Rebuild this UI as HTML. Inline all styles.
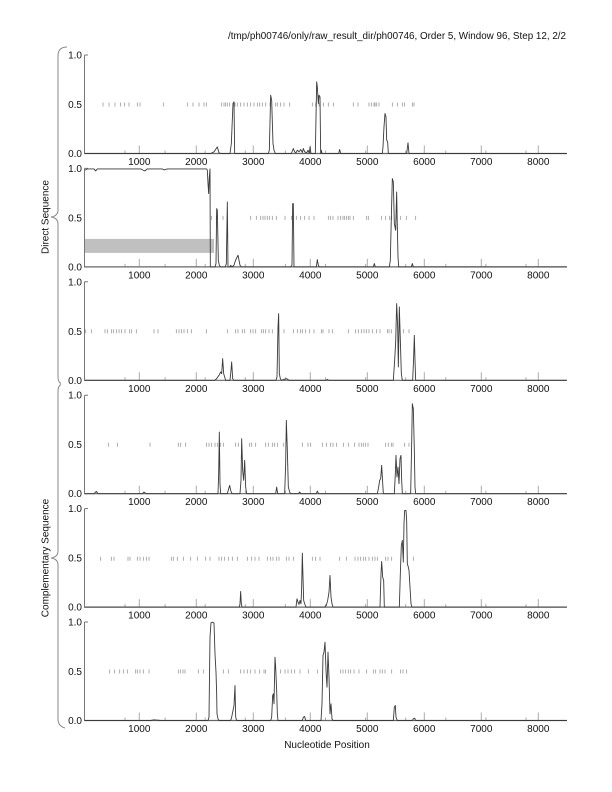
<!DOCTYPE html>
<html><head><meta charset="utf-8"><style>
html,body{margin:0;padding:0;background:#fff}
svg{display:block}
text{font-family:"Liberation Sans",Arial,sans-serif;font-size:10px;fill:#111}
.xl{text-anchor:middle}
.yl{text-anchor:end}
.ax{stroke:#777;stroke-width:1;fill:none}
.bl{stroke:#666;stroke-width:1.2;fill:none}
.tk{stroke:#aaa;stroke-width:1;fill:none}
.mk{stroke:#999;stroke-width:0.8;fill:none;vector-effect:non-scaling-stroke}
.cv{stroke:#3a3a3a;stroke-width:0.9;fill:none;vector-effect:non-scaling-stroke;stroke-linejoin:round}
.br{stroke:#888;stroke-width:1;fill:none}
</style></head><body>
<svg width="612" height="792" viewBox="0 0 612 792" xmlns="http://www.w3.org/2000/svg">
<rect width="612" height="792" fill="#fff"/>
<text x="228" y="39" textLength="338" lengthAdjust="spacingAndGlyphs">/tmp/ph00746/only/raw_result_dir/ph00746, Order 5, Window 96, Step 12, 2/2</text>

<!-- braces -->
<path class="br" d="M67,47 Q58,47 58,56 L58,210 Q58,216 51,217 Q58,218 58,224 L58,377 Q58,382 61,383.5"/>
<path class="br" d="M61,384.5 Q58,386 58,391 L58,551 Q58,557 51,558 Q58,559 58,565 L58,719 Q58,726 65,728"/>
<text transform="translate(48.5,217) rotate(-90)" text-anchor="middle">Direct Sequence</text>
<text transform="translate(48.5,558) rotate(-90)" text-anchor="middle">Complementary Sequence</text>
<text x="327" y="748" text-anchor="middle">Nucleotide Position</text>

<!-- PANEL 1 -->
<g transform="translate(0,153.5)">
<path class="ax" d="M84.5,-98.5V0M84.5,-98.5H88"/>
<path class="tk" d="M139.3,0v-8M196.3,0v-8M253.3,0v-8M310.3,0v-8M367.3,0v-8M424.3,0v-8M481.3,0v-8M538.3,0v-8M125,0v-3M165.1,0v-3M205.2,0v-3M245.3,0v-3M285.4,0v-3M325.5,0v-3M365.6,0v-3M405.7,0v-3M445.8,0v-3M485.9,0v-3M526,0v-3"/>
<path class="bl" d="M84,0H567"/>
<text class="yl" x="82" y="-95">1.0</text><text class="yl" x="82" y="-45.5">0.5</text><text class="yl" x="82" y="3.5">0.0</text>
<text class="xl" x="139.3" y="11.5">1000</text><text class="xl" x="196.3" y="11.5">2000</text><text class="xl" x="253.3" y="11.5">3000</text><text class="xl" x="310.3" y="11.5">4000</text><text class="xl" x="367.3" y="11.5">5000</text><text class="xl" x="424.3" y="11.5">6000</text><text class="xl" x="481.3" y="11.5">7000</text><text class="xl" x="538.3" y="11.5">8000</text>
<g transform="translate(84,0) scale(0.33333)">
<path class="mk" d="M57,-153v12M75,-153v12M93,-153v12M110,-153v12M122,-153v12M135,-153v12M160,-153v12M168,-153v12M238,-153v12M310,-153v12M327,-153v12M345,-153v12M360,-153v12M367,-153v12M413,-153v12M420,-153v12M425,-153v12M430,-153v12M437,-153v12M453,-153v12M460,-153v12M470,-153v12M480,-153v12M490,-153v12M500,-153v12M510,-153v12M520,-153v12M527,-153v12M535,-153v12M545,-153v12M558,-153v12M575,-153v12M580,-153v12M590,-153v12M600,-153v12M617,-153v12M685,-153v12M695,-153v12M705,-153v12M718,-153v12M733,-153v12M748,-153v12M808,-153v12M822,-153v12M855,-153v12M862,-153v12M870,-153v12M873,-153v12M878,-153v12M885,-153v12M925,-153v12M940,-153v12M955,-153v12M962,-153v12M985,-153v12M990,-153v12"/>
<polyline class="cv" points="3,0 380,0 390,-5 400,-20 405,-2 410,0 438,0 442,-30 447,-150 450,-155 452,0 455,0 553,0 556,-10 560,-175 563,-160 567,-30 570,-10 574,0 622,0 628,-15 632,-5 636,-2 640,-10 645,-5 650,-12 655,-3 658,-15 662,-5 668,-2 672,-10 676,0 678,-20 681,0 694,0 698,-215 700,-200 703,-150 705,-175 708,-170 710,0 712,-10 714,0 764,0 767,-12 770,0 895,0 897,-20 900,-80 903,-120 906,-110 908,-40 911,-35 913,0 968,0 972,-32 975,0 1448,0"/>
</g>
</g>

<!-- PANEL 2 -->
<g transform="translate(0,266.9)">
<rect x="85" y="-28" width="129" height="14" fill="#c0c0c0"/>
<path class="ax" d="M84.5,-98.5V0M84.5,-98.5H88"/>
<path class="tk" d="M139.3,0v-8M196.3,0v-8M253.3,0v-8M310.3,0v-8M367.3,0v-8M424.3,0v-8M481.3,0v-8M538.3,0v-8M125,0v-3M165.1,0v-3M205.2,0v-3M245.3,0v-3M285.4,0v-3M325.5,0v-3M365.6,0v-3M405.7,0v-3M445.8,0v-3M485.9,0v-3M526,0v-3"/>
<path class="bl" d="M84,0H567"/>
<text class="yl" x="82" y="-95">1.0</text><text class="yl" x="82" y="-45.5">0.5</text><text class="yl" x="82" y="3.5">0.0</text>
<text class="xl" x="139.3" y="11.5">1000</text><text class="xl" x="196.3" y="11.5">2000</text><text class="xl" x="253.3" y="11.5">3000</text><text class="xl" x="310.3" y="11.5">4000</text><text class="xl" x="367.3" y="11.5">5000</text><text class="xl" x="424.3" y="11.5">6000</text><text class="xl" x="481.3" y="11.5">7000</text><text class="xl" x="538.3" y="11.5">8000</text>
<g transform="translate(84,0) scale(0.33333)">
<path class="mk" d="M382,-153v12M397,-153v12M417,-153v12M500,-153v12M517,-153v12M530,-153v12M537,-153v12M543,-153v12M550,-153v12M557,-153v12M565,-153v12M577,-153v12M603,-153v12M623,-153v12M637,-153v12M650,-153v12M662,-153v12M675,-153v12M690,-153v12M733,-153v12M740,-153v12M747,-153v12M762,-153v12M770,-153v12M777,-153v12M782,-153v12M788,-153v12M793,-153v12M798,-153v12M808,-153v12M848,-153v12M853,-153v12M893,-153v12M905,-153v12M917,-153v12M923,-153v12M937,-153v12M950,-153v12M967,-153v12M995,-153v12"/>
<polyline class="cv" points="3,-290 10,-294 30,-294 35,-288 40,-294 170,-294 178,-290 183,-288 190,-294 235,-294 240,-291 250,-294 368,-294 370,-290 372,-250 374,-220 376,-270 378,-294 379,0 393,0 396,-10 398,-175 400,-170 403,-20 406,-5 410,0 424,0 427,-10 430,-195 432,0 438,0 440,-5 444,0 450,-5 453,-15 457,-25 462,-35 465,-20 468,-5 472,0 620,0 624,-5 626,-190 628,-190 630,0 697,0 700,-22 703,-5 706,0 868,0 871,-10 874,0 916,0 919,-20 922,-150 925,-265 928,-255 931,-130 935,-110 938,-225 940,-120 942,-30 944,0 982,0 985,-10 988,0 1448,0"/>
</g>
</g>

<!-- PANEL 3 -->
<g transform="translate(0,380.3)">
<path class="ax" d="M84.5,-98.5V0M84.5,-98.5H88"/>
<path class="tk" d="M139.3,0v-8M196.3,0v-8M253.3,0v-8M310.3,0v-8M367.3,0v-8M424.3,0v-8M481.3,0v-8M538.3,0v-8M125,0v-3M165.1,0v-3M205.2,0v-3M245.3,0v-3M285.4,0v-3M325.5,0v-3M365.6,0v-3M405.7,0v-3M445.8,0v-3M485.9,0v-3M526,0v-3"/>
<path class="bl" d="M84,0H567"/>
<text class="yl" x="82" y="-95">1.0</text><text class="yl" x="82" y="-45.5">0.5</text><text class="yl" x="82" y="3.5">0.0</text>
<text class="xl" x="139.3" y="11.5">1000</text><text class="xl" x="196.3" y="11.5">2000</text><text class="xl" x="253.3" y="11.5">3000</text><text class="xl" x="310.3" y="11.5">4000</text><text class="xl" x="367.3" y="11.5">5000</text><text class="xl" x="424.3" y="11.5">6000</text><text class="xl" x="481.3" y="11.5">7000</text><text class="xl" x="538.3" y="11.5">8000</text>
<g transform="translate(84,0) scale(0.33333)">
<path class="mk" d="M5,-153v12M22,-153v12M63,-153v12M70,-153v12M82,-153v12M88,-153v12M97,-153v12M105,-153v12M113,-153v12M123,-153v12M137,-153v12M143,-153v12M157,-153v12M210,-153v12M222,-153v12M277,-153v12M285,-153v12M292,-153v12M300,-153v12M310,-153v12M322,-153v12M367,-153v12M430,-153v12M455,-153v12M462,-153v12M475,-153v12M482,-153v12M500,-153v12M507,-153v12M515,-153v12M533,-153v12M538,-153v12M545,-153v12M555,-153v12M565,-153v12M600,-153v12M628,-153v12M640,-153v12M650,-153v12M655,-153v12M665,-153v12M677,-153v12M690,-153v12M712,-153v12M717,-153v12M735,-153v12M745,-153v12M793,-153v12M815,-153v12M823,-153v12M832,-153v12M840,-153v12M847,-153v12M855,-153v12M865,-153v12M878,-153v12M888,-153v12M910,-153v12M915,-153v12M922,-153v12M945,-153v12M958,-153v12M975,-153v12"/>
<polyline class="cv" points="3,0 392,0 398,-5 405,-15 410,-25 413,-20 416,-65 419,-20 422,-10 425,0 438,0 441,-30 443,-55 446,-5 449,0 576,0 579,-10 582,-160 584,-200 586,-20 589,-5 592,0 600,-3 608,-5 615,0 726,0 730,-3 734,0 928,0 932,-60 935,-115 938,-230 941,-160 943,-40 946,-220 949,-120 952,-20 955,0 986,0 989,-70 991,-135 993,-60 995,0 1448,0"/>
</g>
</g>

<!-- PANEL 4 -->
<g transform="translate(0,493.7)">
<path class="ax" d="M84.5,-98.5V0M84.5,-98.5H88"/>
<path class="tk" d="M139.3,0v-8M196.3,0v-8M253.3,0v-8M310.3,0v-8M367.3,0v-8M424.3,0v-8M481.3,0v-8M538.3,0v-8M125,0v-3M165.1,0v-3M205.2,0v-3M245.3,0v-3M285.4,0v-3M325.5,0v-3M365.6,0v-3M405.7,0v-3M445.8,0v-3M485.9,0v-3M526,0v-3"/>
<path class="bl" d="M84,0H567"/>
<text class="yl" x="82" y="-95">1.0</text><text class="yl" x="82" y="-45.5">0.5</text><text class="yl" x="82" y="3.5">0.0</text>
<text class="xl" x="139.3" y="11.5">1000</text><text class="xl" x="196.3" y="11.5">2000</text><text class="xl" x="253.3" y="11.5">3000</text><text class="xl" x="310.3" y="11.5">4000</text><text class="xl" x="367.3" y="11.5">5000</text><text class="xl" x="424.3" y="11.5">6000</text><text class="xl" x="481.3" y="11.5">7000</text><text class="xl" x="538.3" y="11.5">8000</text>
<g transform="translate(84,0) scale(0.33333)">
<path class="mk" d="M73,-153v12M100,-153v12M198,-153v12M283,-153v12M290,-153v12M305,-153v12M368,-153v12M375,-153v12M383,-153v12M393,-153v12M400,-153v12M410,-153v12M418,-153v12M455,-153v12M463,-153v12M497,-153v12M503,-153v12M515,-153v12M545,-153v12M553,-153v12M565,-153v12M572,-153v12M580,-153v12M598,-153v12M655,-153v12M672,-153v12M680,-153v12M715,-153v12M727,-153v12M740,-153v12M747,-153v12M758,-153v12M778,-153v12M793,-153v12M812,-153v12M825,-153v12M832,-153v12M838,-153v12M845,-153v12M852,-153v12M905,-153v12M913,-153v12M922,-153v12M927,-153v12M962,-153v12M975,-153v12"/>
<polyline class="cv" points="3,0 30,0 37,-7 42,0 175,0 180,-5 186,0 402,0 404,-60 406,-185 408,-30 410,0 430,0 434,-15 437,-25 440,-10 444,0 468,0 471,-40 473,-165 476,-70 479,-40 482,-100 485,-20 488,0 575,0 578,-20 581,0 602,0 605,-90 607,-220 610,-130 613,-20 617,-5 620,0 643,0 647,-5 651,0 697,0 700,-8 704,0 880,0 884,-20 887,-40 890,-45 893,-85 895,-50 898,0 931,0 934,-60 936,-115 939,-50 942,-80 945,-30 948,-105 951,-115 953,-40 955,0 980,0 983,-150 985,-270 988,-255 991,-130 993,-20 995,0 1448,0"/>
</g>
</g>

<!-- PANEL 5 -->
<g transform="translate(0,607.1)">
<path class="ax" d="M84.5,-98.5V0M84.5,-98.5H88"/>
<path class="tk" d="M139.3,0v-8M196.3,0v-8M253.3,0v-8M310.3,0v-8M367.3,0v-8M424.3,0v-8M481.3,0v-8M538.3,0v-8M125,0v-3M165.1,0v-3M205.2,0v-3M245.3,0v-3M285.4,0v-3M325.5,0v-3M365.6,0v-3M405.7,0v-3M445.8,0v-3M485.9,0v-3M526,0v-3"/>
<path class="bl" d="M84,0H567"/>
<text class="yl" x="82" y="-95">1.0</text><text class="yl" x="82" y="-45.5">0.5</text><text class="yl" x="82" y="3.5">0.0</text>
<text class="xl" x="139.3" y="11.5">1000</text><text class="xl" x="196.3" y="11.5">2000</text><text class="xl" x="253.3" y="11.5">3000</text><text class="xl" x="310.3" y="11.5">4000</text><text class="xl" x="367.3" y="11.5">5000</text><text class="xl" x="424.3" y="11.5">6000</text><text class="xl" x="481.3" y="11.5">7000</text><text class="xl" x="538.3" y="11.5">8000</text>
<g transform="translate(84,0) scale(0.33333)">
<path class="mk" d="M50,-151v12M82,-151v12M90,-151v12M132,-151v12M138,-151v12M160,-151v12M168,-151v12M178,-151v12M187,-151v12M195,-151v12M262,-151v12M268,-151v12M280,-151v12M298,-151v12M320,-151v12M340,-151v12M365,-151v12M378,-151v12M405,-151v12M413,-151v12M422,-151v12M433,-151v12M445,-151v12M460,-151v12M490,-151v12M503,-151v12M513,-151v12M525,-151v12M550,-151v12M560,-151v12M567,-151v12M578,-151v12M585,-151v12M607,-151v12M615,-151v12M628,-151v12M685,-151v12M695,-151v12M708,-151v12M767,-151v12M787,-151v12M813,-151v12M822,-151v12M830,-151v12M838,-151v12M845,-151v12M855,-151v12M865,-151v12M873,-151v12M880,-151v12M905,-151v12M912,-151v12M923,-151v12M988,-151v12"/>
<polyline class="cv" points="3,0 466,0 468,-10 470,-47 472,-10 474,0 636,0 639,-25 642,-15 645,-8 648,-20 651,-10 653,-60 655,-162 657,-90 659,-20 662,-10 666,0 722,0 727,-5 731,-20 735,-45 738,-95 741,-30 744,-10 747,0 888,0 891,-100 893,-137 896,-90 899,-80 901,0 946,0 949,-100 952,-185 955,-200 958,-135 960,-250 962,-290 966,-290 968,-260 970,-130 973,-120 975,-110 978,-60 981,-10 984,0 1448,0"/>
</g>
</g>

<!-- PANEL 6 -->
<g transform="translate(0,720.5)">
<path class="ax" d="M84.5,-98.5V0M84.5,-98.5H88"/>
<path class="tk" d="M139.3,0v-8M196.3,0v-8M253.3,0v-8M310.3,0v-8M367.3,0v-8M424.3,0v-8M481.3,0v-8M538.3,0v-8M125,0v-3M165.1,0v-3M205.2,0v-3M245.3,0v-3M285.4,0v-3M325.5,0v-3M365.6,0v-3M405.7,0v-3M445.8,0v-3M485.9,0v-3M526,0v-3"/>
<path class="bl" d="M84,0H567"/>
<text class="yl" x="82" y="-95">1.0</text><text class="yl" x="82" y="-45.5">0.5</text><text class="yl" x="82" y="3.5">0.0</text>
<text class="xl" x="139.3" y="11.5">1000</text><text class="xl" x="196.3" y="11.5">2000</text><text class="xl" x="253.3" y="11.5">3000</text><text class="xl" x="310.3" y="11.5">4000</text><text class="xl" x="367.3" y="11.5">5000</text><text class="xl" x="424.3" y="11.5">6000</text><text class="xl" x="481.3" y="11.5">7000</text><text class="xl" x="538.3" y="11.5">8000</text>
<g transform="translate(84,0) scale(0.33333)">
<path class="mk" d="M77,-153v12M92,-153v12M107,-153v12M118,-153v12M130,-153v12M155,-153v12M160,-153v12M168,-153v12M178,-153v12M195,-153v12M283,-153v12M290,-153v12M297,-153v12M303,-153v12M343,-153v12M358,-153v12M418,-153v12M433,-153v12M470,-153v12M480,-153v12M490,-153v12M500,-153v12M513,-153v12M527,-153v12M540,-153v12M545,-153v12M590,-153v12M603,-153v12M612,-153v12M622,-153v12M632,-153v12M648,-153v12M673,-153v12M700,-153v12M770,-153v12M777,-153v12M785,-153v12M793,-153v12M800,-153v12M810,-153v12M825,-153v12M848,-153v12M868,-153v12M875,-153v12M888,-153v12M895,-153v12M903,-153v12M923,-153v12M950,-153v12M957,-153v12M968,-153v12"/>
<polyline class="cv" points="3,0 200,0 210,-2 230,0 372,0 375,-10 378,-250 381,-293 386,-295 390,-292 393,-200 396,-145 398,-80 399,-20 402,-5 405,0 440,0 443,-10 447,-30 450,-45 453,-105 455,-10 458,0 560,0 563,-10 566,-75 568,-80 570,-50 573,-190 575,-160 578,-90 580,-20 582,0 655,0 658,-10 662,-12 665,0 711,0 714,-50 717,-195 720,-205 723,-235 726,-150 729,-100 732,-205 735,-130 738,-20 741,-50 744,-5 747,0 928,0 931,-40 934,-45 936,-10 940,0 985,0 988,-5 992,-7 995,0 1448,0"/>
</g>
</g>
</svg>
</body></html>
